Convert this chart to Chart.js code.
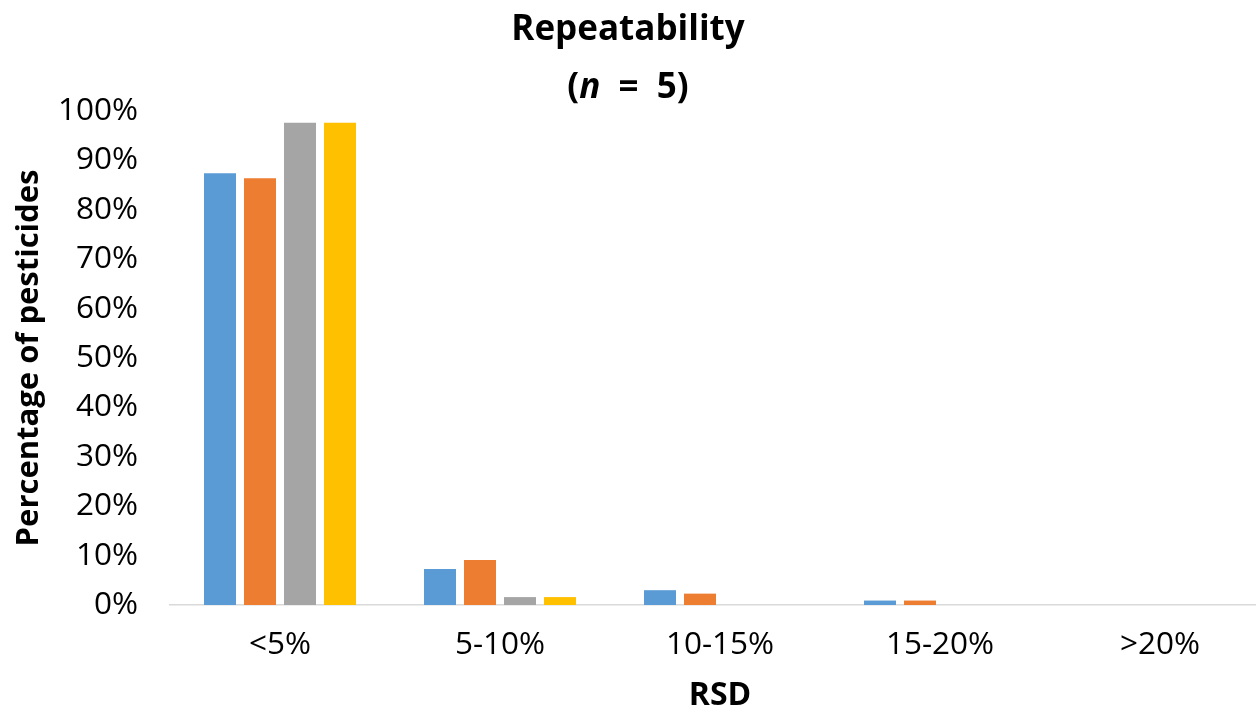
<!DOCTYPE html>
<html>
<head>
<meta charset="utf-8">
<title>Repeatability (n = 5)</title>
<script src="https://cdn.jsdelivr.net/npm/chart.js@4"></script>
<style>
  html, body { margin: 0; padding: 0; background: #ffffff; overflow: hidden; }
  #wrap { position: relative; width: 1280px; height: 708px; }
  #chart { display: block; }
</style>
</head>
<body>
<div id="wrap"><canvas id="chart" width="1280" height="708"></canvas></div>
<script>
// RSD classes on the x axis
const categories = ['<5%', '5-10%', '10-15%', '15-20%', '>20%'];

// Percentage of pesticides in each RSD class, one array per series
const series1 = [87.4, 7.3, 3.0, 0.9, 0];
const series2 = [86.4, 9.1, 2.3, 0.9, 0];
const series3 = [97.6, 1.6, 0, 0, 0];
const series4 = [97.6, 1.6, 0, 0, 0];

// Value axis ticks
const yTicks = [0, 10, 20, 30, 40, 50, 60, 70, 80, 90, 100];

const FONT = "'Open Sans', 'Noto Sans', 'DejaVu Sans', sans-serif";

// Two-line chart title with an italic "n" on the second line
const titlePlugin = {
  id: 'twoLineTitle',
  afterDraw(chart) {
    const ctx = chart.ctx;
    const cx = 628;
    const bold = 'bold 35px ' + FONT;
    ctx.save();
    ctx.fillStyle = '#000000';
    ctx.textBaseline = 'alphabetic';
    ctx.textAlign = 'left';

    ctx.font = bold;
    const line1 = 'Repeatability';
    const w1 = ctx.measureText(line1).width;
    ctx.fillText(line1, cx - w1 / 2, 40);

    const parts = [
      { t: '(', f: bold },
      { t: 'n', f: 'italic ' + bold },
      { t: '  =  5)', f: bold }
    ];
    let total = 0;
    parts.forEach(p => { ctx.font = p.f; p.w = ctx.measureText(p.t).width; total += p.w; });
    let x = cx - total / 2;
    parts.forEach(p => { ctx.font = p.f; ctx.fillText(p.t, x, 97.5); x += p.w; });
    ctx.restore();
  }
};

const ctx = document.getElementById('chart');
new Chart(ctx, {
  type: 'bar',
  data: {
    labels: categories,
    datasets: [
      { label: 'Series 1', data: series1, backgroundColor: '#5B9BD5' },
      { label: 'Series 2', data: series2, backgroundColor: '#ED7D31' },
      { label: 'Series 3', data: series3, backgroundColor: '#A5A5A5' },
      { label: 'Series 4', data: series4, backgroundColor: '#FFC000' }
    ]
  },
  options: {
    responsive: false,
    maintainAspectRatio: false,
    animation: false,
    devicePixelRatio: 1,
    datasets: {
      bar: { categoryPercentage: 160 / 220, barPercentage: 0.8 }
    },
    layout: { padding: { top: 111, right: 10, bottom: 0, left: 0 } },
    plugins: {
      legend: { display: false },
      title: { display: false },
      tooltip: { enabled: false }
    },
    scales: {
      x: {
        grid: { display: false, drawTicks: false },
        border: { display: true, color: '#D9D9D9', width: 1.5 },
        ticks: {
          color: '#000000',
          font: { family: FONT, size: 31.5 },
          padding: 21,
          maxRotation: 0
        },
        title: {
          display: true,
          text: 'RSD',
          color: '#000000',
          font: { family: FONT, size: 32, weight: 'bold', lineHeight: 1 },
          padding: { top: 0, bottom: -4 }
        },
        afterFit(scale) { scale.height = 103; }
      },
      y: {
        min: 0,
        max: 100,
        grid: { display: false, drawTicks: false },
        border: { display: false },
        afterBuildTicks(scale) { scale.ticks = yTicks.map(v => ({ value: v })); },
        ticks: {
          color: '#000000',
          font: { family: FONT, size: 31.5 },
          padding: 32,
          callback: v => v + '%'
        },
        title: {
          display: true,
          text: 'Percentage of pesticides',
          color: '#000000',
          font: { family: FONT, size: 31, weight: 'bold', lineHeight: 1.2 },
          padding: { top: 11, bottom: 0 }
        },
        afterFit(scale) { scale.width = 170; }
      }
    }
  },
  plugins: [titlePlugin]
});
</script>
</body>
</html>
